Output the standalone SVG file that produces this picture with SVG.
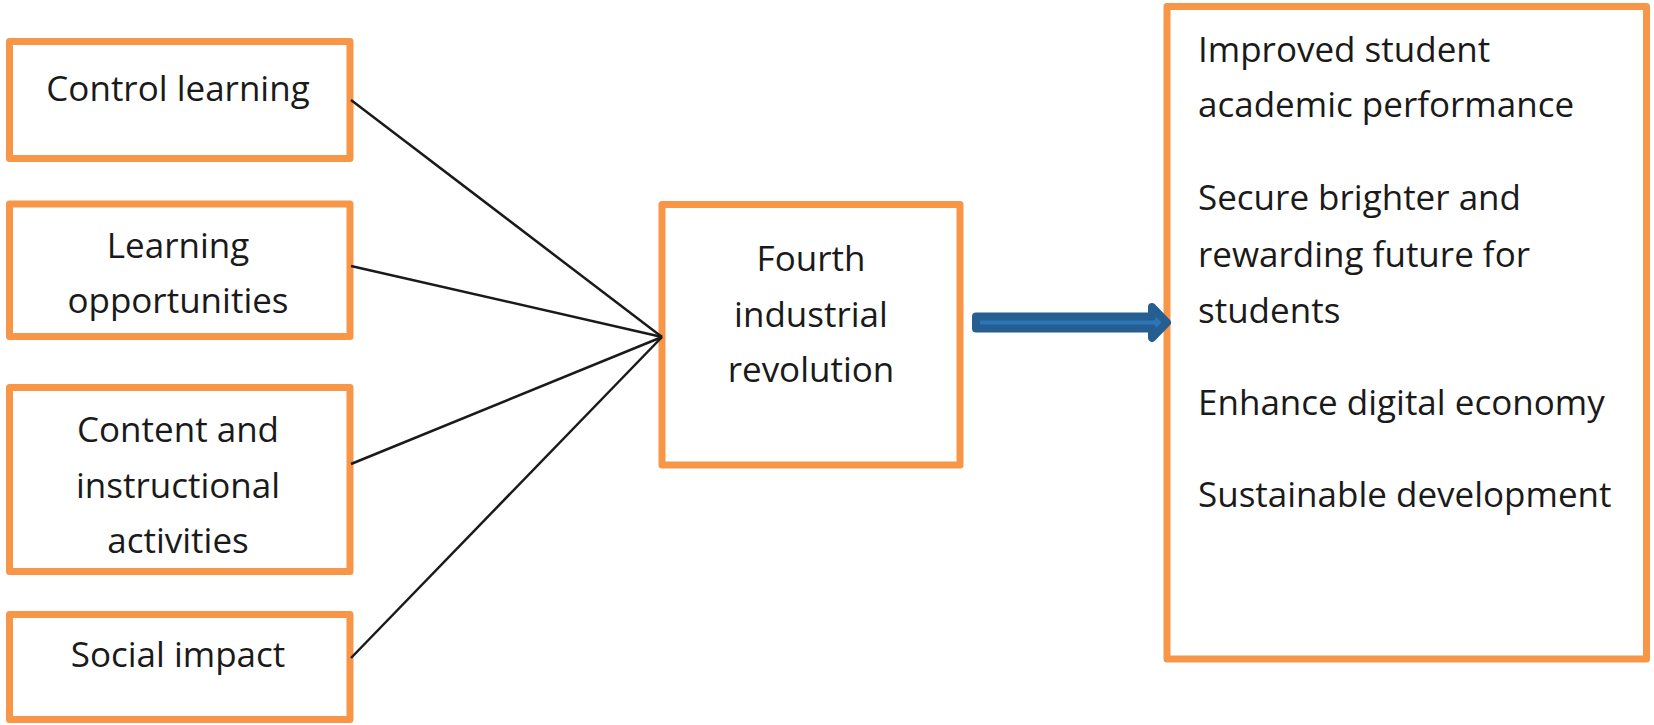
<svg xmlns="http://www.w3.org/2000/svg" width="1654" height="725" viewBox="0 0 1654 725">
<style>
.box{fill:#ffffff;stroke:#f79646;stroke-width:7;stroke-linejoin:round}
.t{font-family:"Open Sans","Noto Sans","Liberation Sans",sans-serif;font-size:35px;fill:#1a1a1a}
.c{text-anchor:middle}
.ln{stroke:#1a1a1a;stroke-width:2.5;fill:none}
</style>
<rect width="1654" height="725" fill="#ffffff"/>
<g id="n1">
<rect class="box" x="9.5" y="41.5" width="340.5" height="117"/>
<text class="t c" x="178" y="101">Control learning</text>
</g>
<g id="n2">
<rect class="box" x="9.5" y="204" width="340.5" height="132.5"/>
<text class="t c" x="178" y="258">Learning</text>
<text class="t c" x="178" y="313">opportunities</text>
</g>
<g id="n3">
<rect class="box" x="9.5" y="387.5" width="340.5" height="184"/>
<text class="t c" x="178" y="442">Content and</text>
<text class="t c" x="178" y="498">instructional</text>
<text class="t c" x="178" y="553">activities</text>
</g>
<g id="n4">
<rect class="box" x="9.5" y="614.5" width="340.5" height="105"/>
<text class="t c" x="178" y="667">Social impact</text>
</g>
<g id="n5">
<rect class="box" x="662" y="204.5" width="298" height="260.5"/>
<text class="t c" x="811" y="271">Fourth</text>
<text class="t c" x="811" y="327">industrial</text>
<text class="t c" x="811" y="382">revolution</text>
</g>
<g id="n6">
<rect class="box" x="1167" y="6.5" width="479.5" height="652.5"/>
<text class="t" x="1198" y="62">Improved student</text>
<text class="t" x="1198" y="117">academic performance</text>
<text class="t" x="1198" y="210">Secure brighter and</text>
<text class="t" x="1198" y="267">rewarding future for</text>
<text class="t" x="1198" y="323">students</text>
<text class="t" x="1198" y="415">Enhance digital economy</text>
<text class="t" x="1198" y="507">Sustainable development</text>
</g>
<g id="connectors">
<line class="ln" x1="351" y1="100" x2="662" y2="337"/>
<line class="ln" x1="351" y1="266" x2="662" y2="337"/>
<line class="ln" x1="351" y1="464" x2="662" y2="337"/>
<line class="ln" x1="351" y1="658" x2="662" y2="337"/>
<path d="M976,316.5 L1152,316.5 L1152,307 L1167,322.5 L1152,338 L1152,328.5 L976,328.5 Z" fill="#2e75b6" stroke="#255e91" stroke-width="8" stroke-linejoin="round"/>
</g>
</svg>
